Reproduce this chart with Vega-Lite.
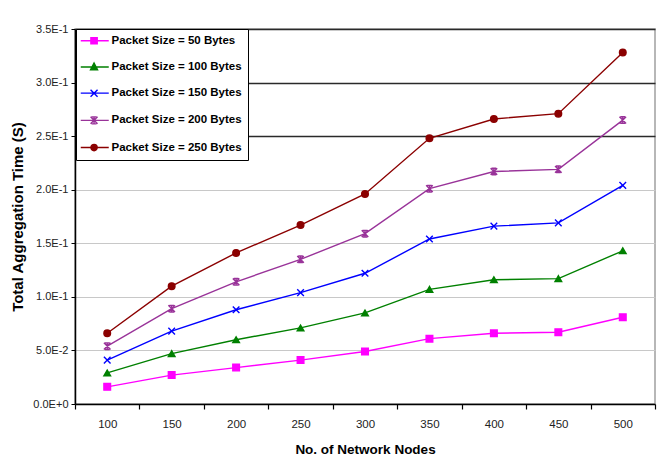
{
  "$schema": "https://vega.github.io/schema/vega-lite/v6.json",
  "autosize": {"type": "none"},
  "width": 580,
  "height": 375,
  "padding": {"left": 75, "top": 29, "right": 8, "bottom": 63},
  "background": "white",
  "config": {
    "font": "Liberation Sans",
    "view": {"stroke": "#a0a0a0", "strokeWidth": 1.5}
  },
  "data": {
    "values": [
      {"nodes": 100, "series": "Packet Size = 50 Bytes", "time": 0.016},
      {"nodes": 150, "series": "Packet Size = 50 Bytes", "time": 0.027},
      {"nodes": 200, "series": "Packet Size = 50 Bytes", "time": 0.034},
      {"nodes": 250, "series": "Packet Size = 50 Bytes", "time": 0.041},
      {"nodes": 300, "series": "Packet Size = 50 Bytes", "time": 0.049},
      {"nodes": 350, "series": "Packet Size = 50 Bytes", "time": 0.061},
      {"nodes": 400, "series": "Packet Size = 50 Bytes", "time": 0.066},
      {"nodes": 450, "series": "Packet Size = 50 Bytes", "time": 0.067},
      {"nodes": 500, "series": "Packet Size = 50 Bytes", "time": 0.081},
      {"nodes": 100, "series": "Packet Size = 100 Bytes", "time": 0.029},
      {"nodes": 150, "series": "Packet Size = 100 Bytes", "time": 0.047},
      {"nodes": 200, "series": "Packet Size = 100 Bytes", "time": 0.060},
      {"nodes": 250, "series": "Packet Size = 100 Bytes", "time": 0.071},
      {"nodes": 300, "series": "Packet Size = 100 Bytes", "time": 0.085},
      {"nodes": 350, "series": "Packet Size = 100 Bytes", "time": 0.107},
      {"nodes": 400, "series": "Packet Size = 100 Bytes", "time": 0.116},
      {"nodes": 450, "series": "Packet Size = 100 Bytes", "time": 0.117},
      {"nodes": 500, "series": "Packet Size = 100 Bytes", "time": 0.143},
      {"nodes": 100, "series": "Packet Size = 150 Bytes", "time": 0.041},
      {"nodes": 150, "series": "Packet Size = 150 Bytes", "time": 0.068},
      {"nodes": 200, "series": "Packet Size = 150 Bytes", "time": 0.088},
      {"nodes": 250, "series": "Packet Size = 150 Bytes", "time": 0.104},
      {"nodes": 300, "series": "Packet Size = 150 Bytes", "time": 0.122},
      {"nodes": 350, "series": "Packet Size = 150 Bytes", "time": 0.154},
      {"nodes": 400, "series": "Packet Size = 150 Bytes", "time": 0.166},
      {"nodes": 450, "series": "Packet Size = 150 Bytes", "time": 0.169},
      {"nodes": 500, "series": "Packet Size = 150 Bytes", "time": 0.204},
      {"nodes": 100, "series": "Packet Size = 200 Bytes", "time": 0.054},
      {"nodes": 150, "series": "Packet Size = 200 Bytes", "time": 0.089},
      {"nodes": 200, "series": "Packet Size = 200 Bytes", "time": 0.114},
      {"nodes": 250, "series": "Packet Size = 200 Bytes", "time": 0.135},
      {"nodes": 300, "series": "Packet Size = 200 Bytes", "time": 0.159},
      {"nodes": 350, "series": "Packet Size = 200 Bytes", "time": 0.201},
      {"nodes": 400, "series": "Packet Size = 200 Bytes", "time": 0.217},
      {"nodes": 450, "series": "Packet Size = 200 Bytes", "time": 0.219},
      {"nodes": 500, "series": "Packet Size = 200 Bytes", "time": 0.265},
      {"nodes": 100, "series": "Packet Size = 250 Bytes", "time": 0.066},
      {"nodes": 150, "series": "Packet Size = 250 Bytes", "time": 0.110},
      {"nodes": 200, "series": "Packet Size = 250 Bytes", "time": 0.141},
      {"nodes": 250, "series": "Packet Size = 250 Bytes", "time": 0.167},
      {"nodes": 300, "series": "Packet Size = 250 Bytes", "time": 0.196},
      {"nodes": 350, "series": "Packet Size = 250 Bytes", "time": 0.248},
      {"nodes": 400, "series": "Packet Size = 250 Bytes", "time": 0.266},
      {"nodes": 450, "series": "Packet Size = 250 Bytes", "time": 0.271},
      {"nodes": 500, "series": "Packet Size = 250 Bytes", "time": 0.328}
    ]
  },
  "encoding": {
    "x": {
      "field": "nodes",
      "type": "ordinal",
      "scale": {"type": "band", "paddingInner": 0, "paddingOuter": 0},
      "axis": {
        "title": "No. of Network Nodes",
        "titleFont": "Liberation Sans",
        "titleFontSize": 13.5,
        "titleFontWeight": "bold",
        "titleColor": "black",
        "titlePadding": 13,
        "labelAngle": 0,
        "labelFontSize": 11.5,
        "labelColor": "#222",
        "labelPadding": 9,
        "tickBand": "extent",
        "tickSize": 5,
        "tickColor": "black",
        "tickWidth": 1.2,
        "domainColor": "black",
        "domainWidth": 1.5,
        "grid": false
      }
    },
    "y": {
      "field": "time",
      "type": "quantitative",
      "scale": {"domain": [0, 0.35], "nice": false},
      "axis": {
        "title": "Total Aggregation Time (S)",
        "titleFont": "Liberation Sans",
        "titleFontSize": 15,
        "titleFontWeight": "bold",
        "titleColor": "black",
        "titlePadding": 7,
        "values": [0, 0.05, 0.1, 0.15, 0.2, 0.25, 0.3, 0.35],
        "labelExpr": "upper(format(datum.value, '.1e'))",
        "labelFontSize": 11,
        "labelColor": "#222",
        "labelPadding": 3,
        "tickSize": 4,
        "tickColor": "black",
        "domainColor": "black",
        "domainWidth": 1.5,
        "grid": true,
        "gridColor": {"condition": {"test": "datum.value >= 0.249", "value": "#2a2a2a"}, "value": "#c8c8c8"},
        "gridWidth": {"condition": {"test": "datum.value >= 0.249", "value": 1.6}, "value": 1.2}
      }
    },
    "color": {
      "field": "series",
      "type": "nominal",
      "scale": {
        "domain": ["Packet Size = 50 Bytes", "Packet Size = 100 Bytes", "Packet Size = 150 Bytes", "Packet Size = 200 Bytes", "Packet Size = 250 Bytes"],
        "range": ["#ff00ff", "#008000", "#0000ff", "#993399", "#8b0000"]
      },
      "legend": {
        "orient": "none",
        "legendX": 1,
        "legendY": 0,
        "title": null,
        "padding": 6,
        "strokeColor": "black",
        "fillColor": "white",
        "labelFont": "Liberation Sans",
        "labelFontWeight": "bold",
        "labelFontSize": 11.5,
        "labelColor": "black",
        "symbolSize": 49,
        "rowPadding": 13.2,
        "labelOffset": 18,
        "symbolStrokeWidth": 1.4,
        "symbolOpacity": 1
      }
    }
  },
  "layer": [
    {
      "mark": {"type": "line", "strokeWidth": 1.4}
    },
    {
      "mark": {"type": "point", "filled": true, "strokeWidth": 1.4, "opacity": 1},
      "encoding": {
        "stroke": {
          "condition": [
            {"test": "datum.series === 'Packet Size = 50 Bytes'", "value": "#ff00ff"},
            {"test": "datum.series === 'Packet Size = 100 Bytes'", "value": "#008000"},
            {"test": "datum.series === 'Packet Size = 150 Bytes'", "value": "#0000ff"},
            {"test": "datum.series === 'Packet Size = 200 Bytes'", "value": "#993399"}
          ],
          "value": "#8b0000"
        },
        "shape": {
          "condition": [
            {"test": "datum.series === 'Packet Size = 50 Bytes'", "value": "square"},
            {"test": "datum.series === 'Packet Size = 100 Bytes'", "value": "triangle-up"},
            {"test": "datum.series === 'Packet Size = 150 Bytes'", "value": "M-1,-1L1,1M-1,1L1,-1"},
            {"test": "datum.series === 'Packet Size = 200 Bytes'", "value": "M-1,-1L1,1M-1,1L1,-1M-0.7,-1H0.7M-0.7,1H0.7M0,-1V1"}
          ],
          "value": "circle"
        },
        "size": {"value": 44}
      }
    },
    {
      "transform": [{"filter": "false"}],
      "mark": {"type": "point", "filled": true, "strokeWidth": 1.4, "opacity": 1},
      "encoding": {
        "shape": {
          "field": "series",
          "type": "nominal",
          "scale": {
            "domain": ["Packet Size = 50 Bytes", "Packet Size = 100 Bytes", "Packet Size = 150 Bytes", "Packet Size = 200 Bytes", "Packet Size = 250 Bytes"],
            "range": [
              "M-2,0H6M0.9,-0.9H2.7V0.9H0.9Z",
              "M-2,0H6M1.8,-1.1L2.8,0.8H0.8Z",
              "M-2,0H6M0.8,-1L2.8,1M0.8,1L2.8,-1",
              "M-2,0H6M0.8,-1L2.8,1M0.8,1L2.8,-1M1.1,-1H2.5M1.1,1H2.5M1.8,-1V1",
              "M-2,0H6M2.7,0A0.9,0.9,0,1,1,0.9,0A0.9,0.9,0,1,1,2.7,0Z"
            ]
          },
          "legend": {"title": null}
        },
        "size": {"value": 44}
      }
    }
  ]
}
